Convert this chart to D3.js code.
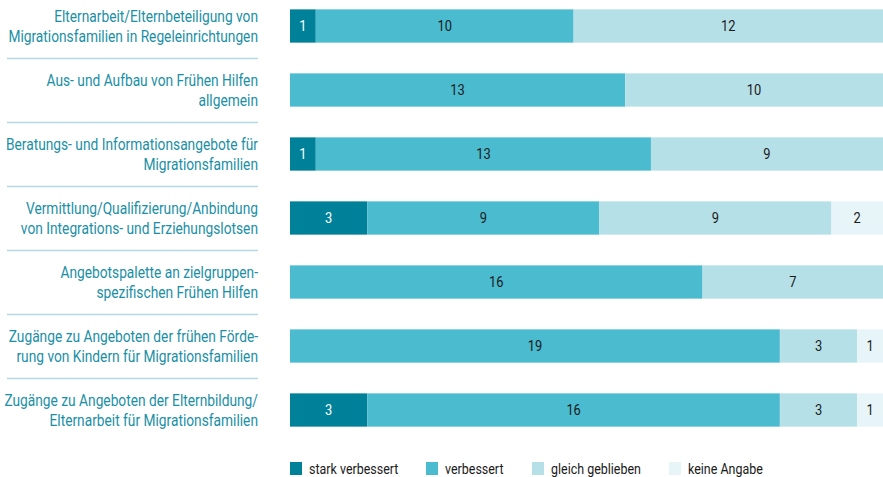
<!DOCTYPE html>
<html>
<head>
<meta charset="utf-8">
<script src="https://cdn.jsdelivr.net/npm/d3@7"></script>
<style>
  body { margin: 0; background: #fff; }
  svg text { font-family: 'Roboto', sans-serif; }
</style>
</head>
<body>
<svg width="883" height="477"></svg>
<script>
var svg = d3.select('svg')

var categories = [
  ['Elternarbeit/Elternbeteiligung von', 'Migrationsfamilien in Regeleinrichtungen'],
  ['Aus- und Aufbau von Frühen Hilfen', 'allgemein'],
  ['Beratungs- und Informationsangebote für', 'Migrationsfamilien'],
  ['Vermittlung/Qualifizierung/Anbindung', 'von Integrations- und Erziehungslotsen'],
  ['Angebotspalette an zielgruppen-', 'spezifischen Frühen Hilfen'],
  ['Zugänge zu Angeboten der frühen Förde-', 'rung von Kindern für Migrationsfamilien'],
  ['Zugänge zu Angeboten der Elternbildung/', 'Elternarbeit für Migrationsfamilien']
]

var seriesNames = ['stark verbessert', 'verbessert', 'gleich geblieben', 'keine Angabe']
var starkVerbessert = [1, 0, 1, 3, 0, 0, 3]
var verbessert = [10, 13, 13, 9, 16, 19, 16]
var gleichGeblieben = [12, 10, 9, 9, 7, 3, 3]
var keineAngabe = [0, 0, 0, 2, 0, 1, 1]

var colors = ['#00819a', '#4bbbcf', '#b6e0e8', '#e7f5f8']
var textColors = ['#ffffff', '#1a1a1a', '#1a1a1a', '#1a1a1a']

// Roboto is wider than the condensed face of the original, squeeze it
var squeeze = 0.86

var rows = categories.map((c, i) => ({
  idx: i,
  label: c,
  vals: [starkVerbessert[i], verbessert[i], gleichGeblieben[i], keineAngabe[i]]
}))

var stack = d3.stack()
  .keys([0, 1, 2, 3])
  .value((d, k) => d.vals[k])

var layers = stack(rows)

var x = d3.scaleLinear()
  .domain([0, 23])
  .range([290, 883])

var y = d3.scaleBand()
  .domain(d3.range(categories.length))
  .range([-6, 442])
  .paddingInner(0.48)
  .paddingOuter(0.24)

// labels
var labelGr = svg.append('g')

labelGr.selectAll('text')
  .data(rows)
  .enter()
  .append('text')
  .attr('transform', (d) => 'translate(258,' + (y(d.idx) + y.bandwidth() / 2) + ') scale(' + squeeze + ',1)')
  .attr('text-anchor', 'end')
  .style('fill', '#1a8fa6')
  .style('font-size', '16px')
  .each(function (d) {
    var t = d3.select(this)
    t.append('tspan').attr('x', 0).attr('dy', '-0.28em').text(d.label[0])
    t.append('tspan').attr('x', 0).attr('dy', '1.3em').text(d.label[1])
  })

// separators
labelGr.selectAll('line')
  .data(d3.range(categories.length - 1))
  .enter()
  .append('line')
  .attr('x1', 7)
  .attr('x2', 258)
  .attr('y1', (i) => (y(i) + y.bandwidth() + y(i + 1)) / 2 + 0.5)
  .attr('y2', (i) => (y(i) + y.bandwidth() + y(i + 1)) / 2 + 0.5)
  .style('stroke', '#b5d9e0')
  .style('stroke-width', 1.5)

// bars
var layerGr = svg.append('g')
  .selectAll('g')
  .data(layers)
  .enter()
  .append('g')

layerGr.selectAll('rect')
  .data((L) => L.map((s) => ({ s: s, k: L.key })))
  .enter()
  .append('rect')
  .attr('x', (d) => x(d.s[0]))
  .attr('y', (d) => y(d.s.data.idx))
  .attr('width', (d) => x(d.s[1]) - x(d.s[0]))
  .attr('height', y.bandwidth())
  .style('fill', (d) => colors[d.k])

layerGr.selectAll('text')
  .data((L) => L.map((s) => ({ s: s, k: L.key })).filter((d) => d.s[1] > d.s[0]))
  .enter()
  .append('text')
  .attr('transform', (d) => 'translate(' + ((x(d.s[0]) + x(d.s[1])) / 2) + ',' + (y(d.s.data.idx) + y.bandwidth() / 2) + ') scale(' + squeeze + ',1)')
  .attr('dy', '0.35em')
  .attr('text-anchor', 'middle')
  .style('font-size', '15px')
  .style('fill', (d) => textColors[d.k])
  .text((d) => d.s[1] - d.s[0])

// legend
var legendX = [290, 426, 532, 669]
var legend = svg.append('g')
  .selectAll('g')
  .data(seriesNames)
  .enter()
  .append('g')
  .attr('transform', (d, i) => 'translate(' + legendX[i] + ',462)')

legend.append('rect')
  .attr('width', 12)
  .attr('height', 13)
  .style('fill', (d, i) => colors[i])

legend.append('text')
  .attr('transform', 'translate(19,6.5) scale(' + squeeze + ',1)')
  .attr('dy', '0.35em')
  .style('font-size', '14.5px')
  .style('fill', '#1a1a1a')
  .text((d) => d)
</script>
</body>
</html>
